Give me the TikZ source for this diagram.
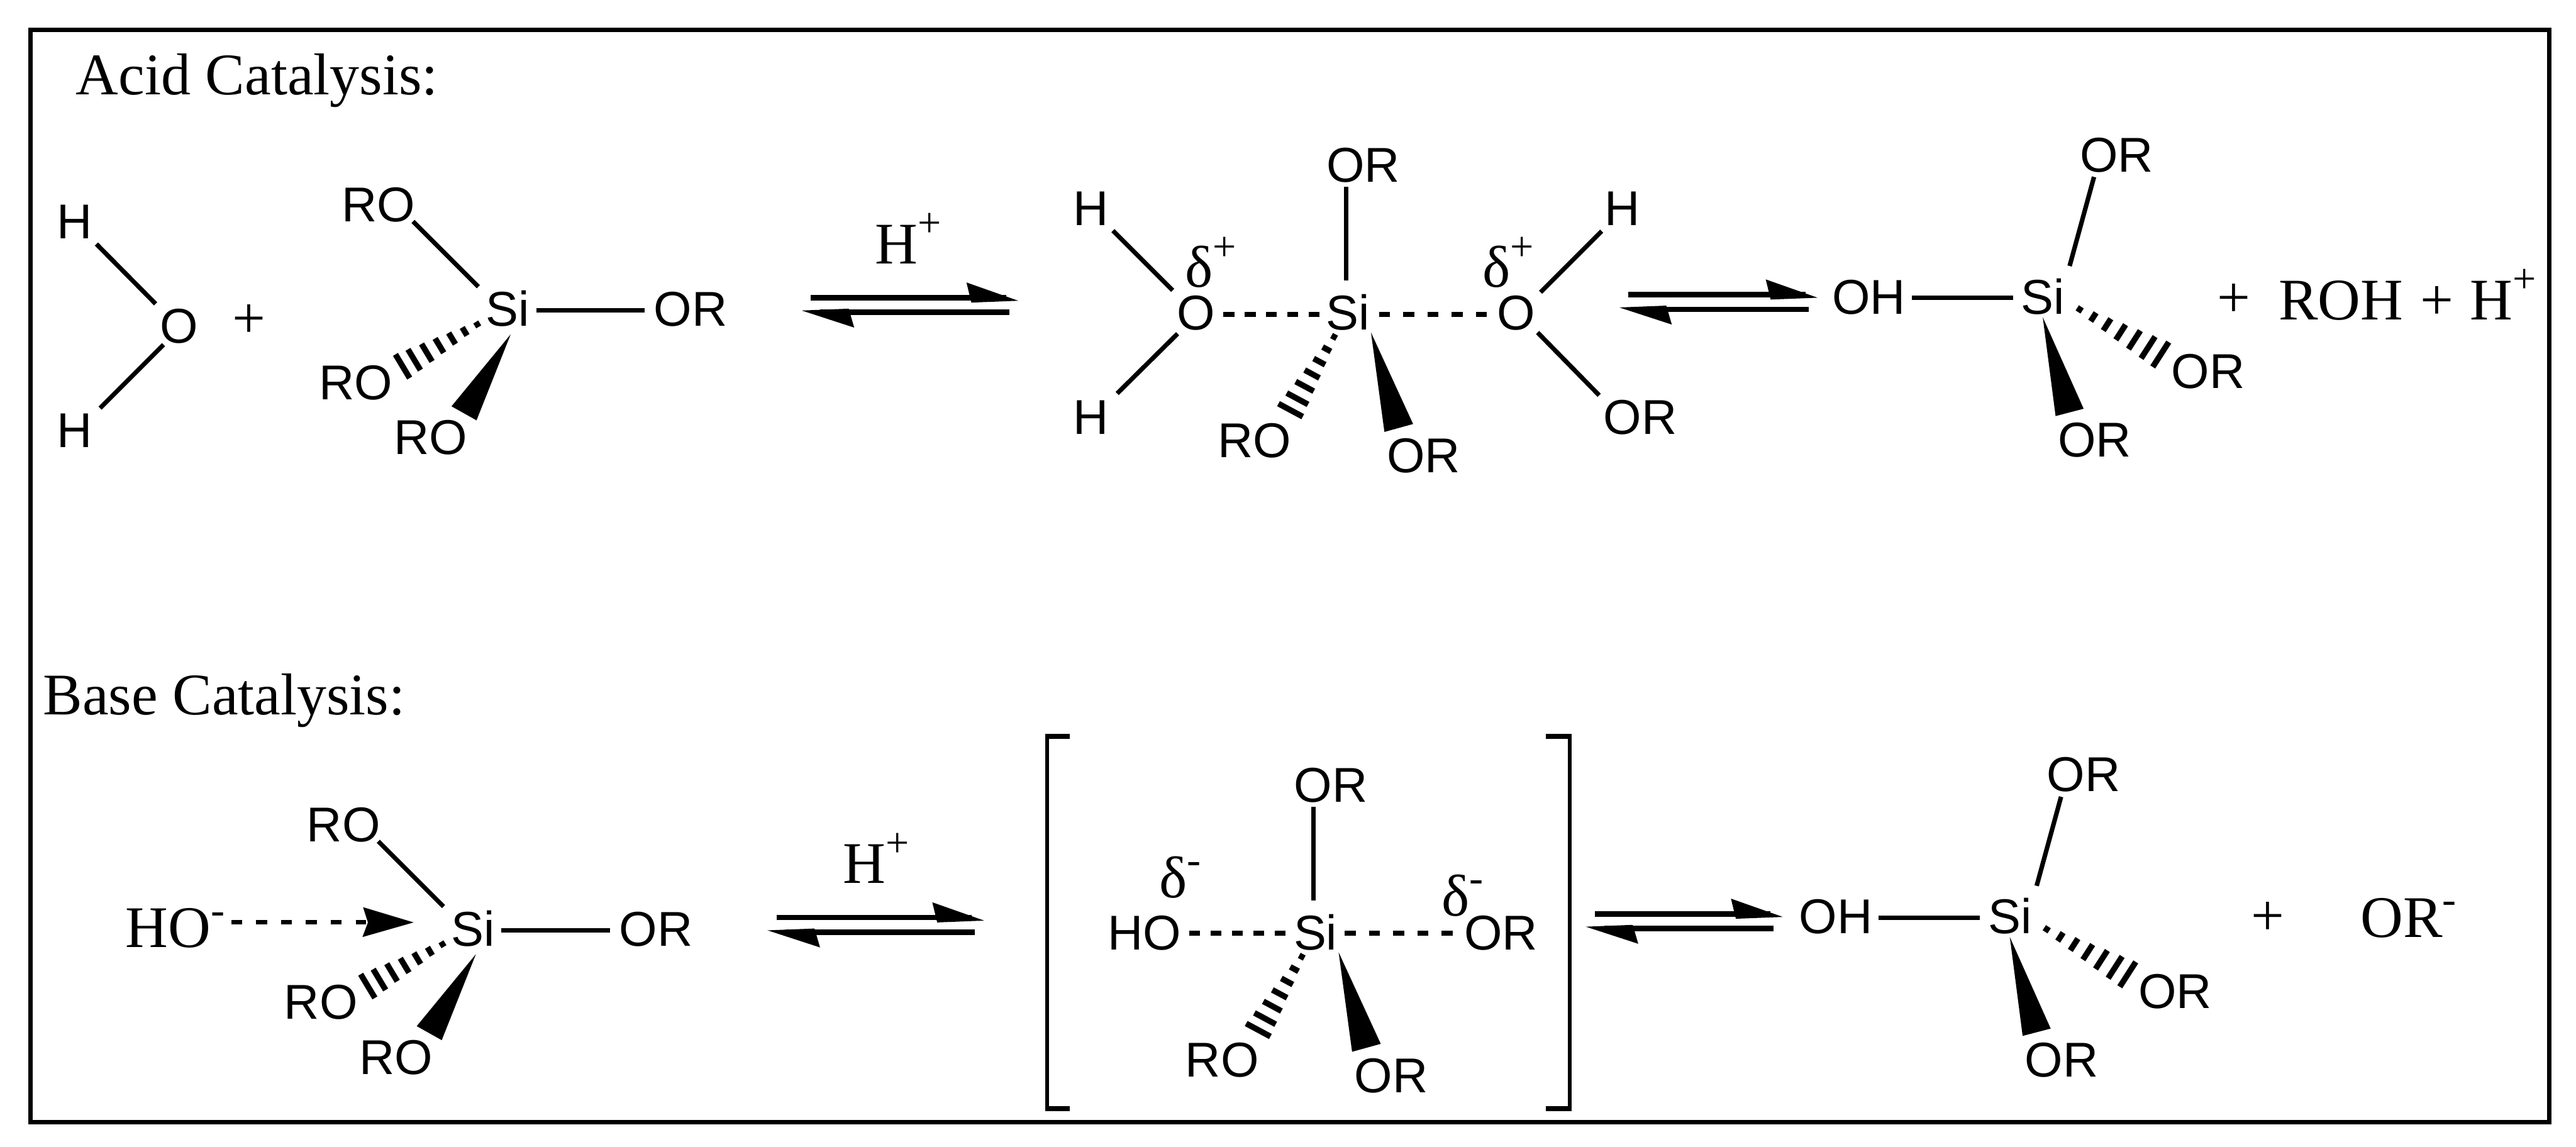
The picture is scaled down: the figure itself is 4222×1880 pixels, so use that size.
\documentclass[tikz,border=0pt]{standalone}
\usepackage{fontspec}
\setmainfont{Liberation Serif}
\setsansfont{Liberation Sans}
\usetikzlibrary{calc}
\newcommand\suprp[1]{\raisebox{12.5pt}{\fontsize{19.4}{20}\selectfont #1}}
\newcommand\suprm[1]{\raisebox{11pt}{\fontsize{19.4}{20}\selectfont #1}}
\tikzset{
  atom/.style={font=\sffamily\fontsize{22.8}{24}\selectfont,inner sep=0pt,text height=16.3pt,text depth=0pt,anchor=center},
  serif/.style={font=\fontsize{27.5}{30}\selectfont,inner sep=0pt,anchor=base west},
  plusn/.style={font=\fontsize{27.5}{30}\selectfont,inner sep=0pt,anchor=center},
  bondl/.style={line width=2.1pt,black},
  dbond/.style={line width=2.4pt,black,dash pattern=on 5.1pt off #1},
  hashl/.style={line width=2.7pt,black},
  arrl/.style={line width=2.5pt,black},
  framel/.style={line width=2.1pt,black},
  brk/.style={line width=1.9pt,black},
  brkt/.style={line width=2.5pt,black}
}
% bond between two named nodes, ends given as offsets from the node centres
\newcommand\sibond[4]{\draw[bondl] ([shift={(#2)}]#1.center) -- ([shift={(#4)}]#3.center);}
\newcommand\wedgebond[5]{\fill[black] ([shift={(#2)}]#1.center) -- ([shift={(#4)}]#3.center) -- ([shift={(#5)}]#3.center) -- cycle;}
\newcommand\hashbond[5]{%
  \coordinate (ht) at ([shift={(#2)}]#1.center);
  \coordinate (ha) at ([shift={(#4)}]#3.center);
  \coordinate (hb) at ([shift={(#5)}]#3.center);
  \foreach \t in {0.20,0.33,0.46,0.59,0.72,0.85,0.97}{\draw[hashl] ($(ht)!\t!(ha)$) -- ($(ht)!\t!(hb)$);}
}
% equilibrium arrows: #1 name, #2 left tip, #3 right tip, #4 y of upper line
\newcommand\eqarrow[4]{%
  \coordinate (#1ua) at (#2+15,#4);
  \coordinate (#1ub) at (#3-20,#4);
  \coordinate (#1la) at (#2+30,#4+24);
  \coordinate (#1lb) at (#3-15,#4+24);
  \draw[arrl] (#1ua) -- (#1ub);
  \draw[arrl] (#1la) -- (#1lb);
  \fill[black] (#3,#4+5) -- (#3-85,#4-25) -- (#3-77,#4+8) -- cycle;
  \fill[black] (#2,#4+21) -- (#2+86,#4+49) -- (#2+77,#4+18) -- cycle;
}
% tetrahedral silane, reactant form
\newcommand\silaneA[3]{%
  \node[atom] (#1si) at (#2,#3) {Si};
  \node[atom] (#1rot) at (#2-212,#3-171) {RO};
  \node[atom] (#1or) at (#2+300,#3) {OR};
  \node[atom] (#1roh) at (#2-249,#3+120) {RO};
  \node[atom] (#1row) at (#2-126,#3+210) {RO};
  \sibond{#1si}{47,3}{#1or}{-75,3}
  \sibond{#1si}{-48,-36}{#1rot}{57,28}
  \hashbond{#1si}{-18,8}{#1roh}{60,-43}{84,-3}
  \wedgebond{#1si}{5,42}{#1row}{34,-50}{75,-27}
}
% five coordinate centre
\newcommand\silaneM[3]{%
  \node[atom] (#1si) at (#2,#3) {Si};
  \node[atom] (#1ort) at (#2+25,#3-242) {OR};
  \node[atom] (#1roh) at (#2-153,#3+209) {RO};
  \node[atom] (#1orw) at (#2+124,#3+234) {OR};
  \sibond{#1si}{-3,-52}{#1ort}{-28,36}
  \hashbond{#1si}{-4,9}{#1roh}{36,-55}{77,-33}
  \wedgebond{#1si}{38,33}{#1orw}{-64,-38}{-17,-51}
}
% product silanol
\newcommand\silaneP[3]{%
  \node[atom] (#1si) at (#2,#3) {Si};
  \node[atom] (#1oh) at (#2-285,#3) {OH};
  \node[atom] (#1ort) at (#2+121,#3-233) {OR};
  \node[atom] (#1orh) at (#2+271,#3+122) {OR};
  \node[atom] (#1orw) at (#2+85,#3+234) {OR};
  \sibond{#1oh}{70,2}{#1si}{-49,2}
  \sibond{#1si}{44,-50}{#1ort}{-37,37}
  \hashbond{#1si}{26,2}{#1orh}{-59,-45}{-86,-3}
  \wedgebond{#1si}{0,34}{#1orw}{-64,-38}{-18,-50}
}
\begin{document}
\begin{tikzpicture}[x=0.01cm,y=-0.01cm]
\useasboundingbox (0,0) rectangle (4222,1880);
\fill[white] (0,0) rectangle (4222,1880);
\draw[framel] (50,49) rectangle (4178,1839);

% --- Acid catalysis ---
\node[serif] (acidtitle) at (124,155) {Acid Catalysis:};
\node[atom] (h1) at (122,363) {H};
\node[atom] (h2) at (122,705) {H};
\node[atom] (o1) at (293,534) {O};
\sibond{h1}{36,37}{o1}{-38,-36}
\sibond{o1}{-25,31}{h2}{42,-36}
\node[plusn] (plus1) at (408,527) {+};
\silaneA{a}{832}{506}
\node[serif] (hplus1) at (1434,432) {H\suprp{+}};
\eqarrow{e1}{1314}{1669}{488}

\silaneM{m}{2209}{512}
\node[atom] (mhl1) at (1788,341) {H};
\node[atom] (mhl2) at (1788,683) {H};
\node[atom] (mol) at (1960,512) {O};
\node[atom] (mor) at (2485,512) {O};
\node[atom] (mhr) at (2659,341) {H};
\node[atom] (morr) at (2688,683) {OR};
\sibond{mhl1}{36,37}{mol}{-38,-36}
\sibond{mol}{-30,35}{mhl2}{43,-38}
\sibond{mhr}{-34,38}{mor}{40,-33}
\sibond{mor}{35,33}{morr}{-67,-35}
\draw[dbond=4.84pt] ([shift={(45,3)}]mol.center) -- ([shift={(-43,3)}]msi.center);
\draw[dbond=6.2pt] ([shift={(51,3)}]msi.center) -- ([shift={(-46,3)}]mor.center);
\node[serif] (dl) at (1942,471) {δ\suprp{+}};
\node[serif] (dr) at (2429,471) {δ\suprp{+}};
\eqarrow{e2}{2654}{2979}{483}

\silaneP{p}{3348}{486}
\node[plusn] (plus2) at (3661,493) {+};
\node[serif] (rohh) at (3734,524) {ROH\hspace{1pt} + \hspace{1pt}H\suprp{+}};

% --- Base catalysis ---
\node[serif] (basetitle) at (70,1171) {Base Catalysis:};
\silaneA{b}{775}{1522}
\node[serif] (hom) at (205,1553) {HO\suprm{-}};
\coordinate (hoa) at (379,1512);
\coordinate (hob) at (600,1512);
\draw[dbond=6.5pt,line width=2.1pt] (hoa) -- (hob);
\fill[black] (678,1512) -- (595,1487) -- (603,1512) -- (594,1536) -- cycle;
\node[serif] (hplus2) at (1381,1448) {H\suprp{+}};
\eqarrow{e3}{1258}{1613}{1504}

\draw[brk] (1716,1207) -- (1716,1817);
\draw[brkt] (1713,1207) -- (1753,1207);
\draw[brkt] (1713,1817) -- (1753,1817);
\draw[brk] (2573,1207) -- (2573,1817);
\draw[brkt] (2534,1207) -- (2576,1207);
\draw[brkt] (2534,1817) -- (2576,1817);

\silaneM{n}{2156}{1528}
\node[atom] (nho) at (1876,1528) {HO};
\node[atom] (nor) at (2460,1528) {OR};
\draw[dbond=4.84pt] ([shift={(73,2)}]nho.center) -- ([shift={(-45,2)}]nsi.center);
\draw[dbond=6.2pt] ([shift={(48,2)}]nsi.center) -- ([shift={(-74,2)}]nor.center);
\node[serif] (dm1) at (1899,1471) {δ\suprm{-}};
\node[serif] (dm2) at (2362,1501) {δ\suprm{-}};
\eqarrow{e4}{2599}{2922}{1498}

\silaneP{q}{3294}{1502}
\node[plusn] (plus3) at (3717,1506) {+};
\node[serif] (orm) at (3868,1536) {OR\suprm{-}};
\end{tikzpicture}
\end{document}
